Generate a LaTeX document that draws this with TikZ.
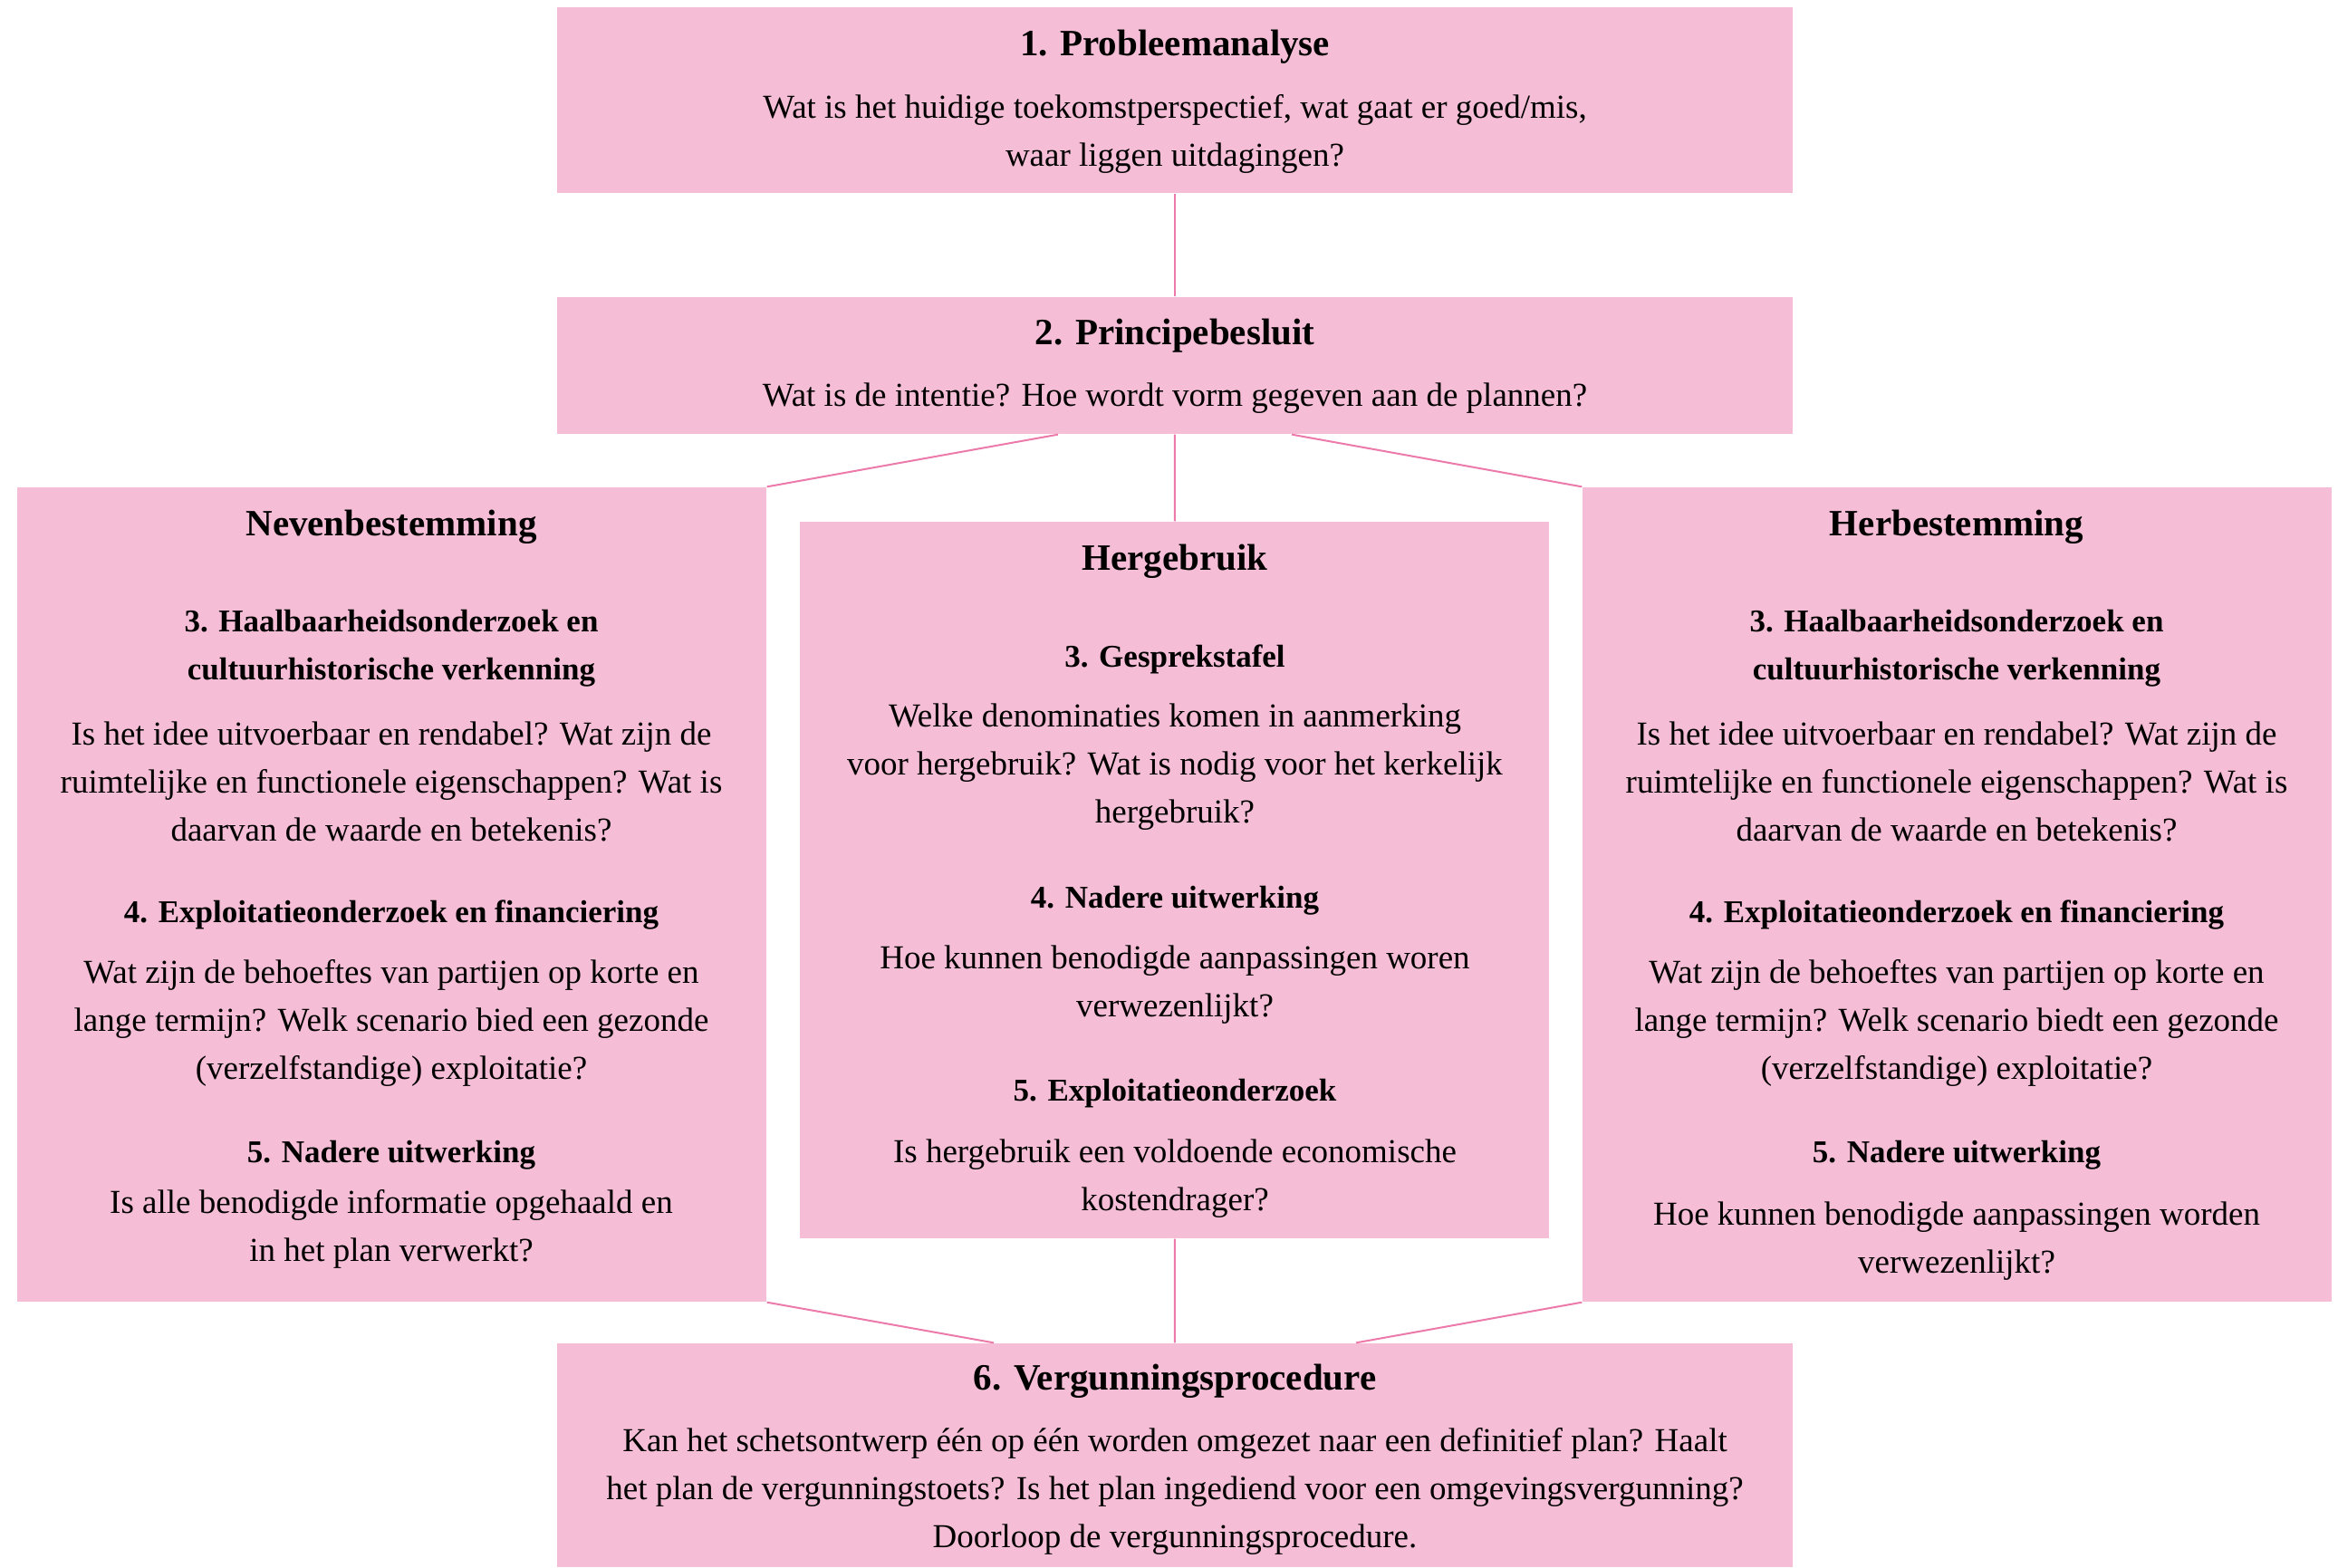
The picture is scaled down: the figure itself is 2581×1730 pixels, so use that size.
\documentclass[tikz,border=0pt]{standalone}
\usepackage{fontspec}
\setmainfont{Liberation Serif}
\usepackage{xcolor}
\usepackage{tikz}
\definecolor{pinkfill}{RGB}{246,190,214}
\definecolor{pinkline}{RGB}{236,122,170}
\tikzset{
  % --- boxes -----------------------------------------------------------------
  box/.style={rectangle,fill=pinkfill,inner sep=0pt},
  widebox/.style={box,minimum width=409.2pt},
  colbox/.style={box,minimum width=248.1pt},
  % --- texts -----------------------------------------------------------------
  ttl/.style={font=\bfseries\fontsize{12.3}{16}\selectfont,inner sep=0pt,
              yshift=-1.1pt},
  sub/.style={font=\bfseries\fontsize{10.5}{15.9}\selectfont,align=center,
              inner sep=0pt,yshift=-1.1pt},
  txt/.style={font=\fontsize{11.1}{15.9}\selectfont,align=center,inner sep=0pt,
              yshift=-1.1pt},
  % --- links -----------------------------------------------------------------
  link/.style={draw=pinkline,line width=0.6pt},
}
\begin{document}
\begin{tikzpicture}[x=0.3pt, y=-0.3pt]
  \useasboundingbox (0,0) rectangle (2581,1730);

  % boxes
  \node[widebox,minimum height=61.5pt]  (prob)  at (1297,110.5)  {};
  \node[widebox,minimum height=45.3pt]  (princ) at (1297,403.5)  {};
  \node[colbox,minimum height=269.7pt]  (neven) at (432.5,987.5) {};
  \node[colbox,minimum height=237.3pt]  (herg)  at (1296.5,971.5) {};
  \node[colbox,minimum height=269.7pt]  (herb)  at (2160.5,987.5) {};
  \node[widebox,minimum height=74.1pt]  (verg)  at (1297,1606.5) {};

  % links
  \draw[link] (prob) -- (princ);
  \draw[link] ([xshift=-38.7pt]princ.south) -- (neven.north east);
  \draw[link] (princ) -- (herg);
  \draw[link] ([xshift=38.7pt]princ.south) -- (herb.north west);
  \draw[link] (neven.south east) -- ([xshift=-60pt]verg.north);
  \draw[link] (herg) -- (verg);
  \draw[link] (herb.south west) -- ([xshift=60pt]verg.north);

  % 1 and 2
  \node[ttl] (probT) at (1297,48)  {1. Probleemanalyse};
  \node[txt] (probQ) at (1297,144) {Wat is het huidige toekomstperspectief, wat gaat er goed/mis,\\
    waar liggen uitdagingen?};
  \node[ttl] (princT) at (1297,367) {2. Principebesluit};
  \node[txt] (princQ) at (1297,436) {Wat is de intentie? Hoe wordt vorm gegeven aan de plannen?};

  % Nevenbestemming
  \node[ttl] (nevenT) at (432,578) {Nevenbestemming};
  \node[sub] (neven3) at (432,712) {3. Haalbaarheidsonderzoek en\\cultuurhistorische verkenning};
  \node[txt] (neven3q) at (432,859) {Is het idee uitvoerbaar en rendabel? Wat zijn de\\
    ruimtelijke en functionele eigenschappen? Wat is\\daarvan de waarde en betekenis?};
  \node[sub] (neven4) at (432,1006) {4. Exploitatieonderzoek en financiering};
  \node[txt] (neven4q) at (432,1126) {Wat zijn de behoeftes van partijen op korte en\\
    lange termijn? Welk scenario bied een gezonde\\(verzelfstandige) exploitatie?};
  \node[sub] (neven5) at (432,1272) {5. Nadere uitwerking};
  \node[txt] (neven5q) at (432,1353) {Is alle benodigde informatie opgehaald en\\in het plan verwerkt?};

  % Hergebruik
  \node[ttl] (hergT) at (1297,616) {Hergebruik};
  \node[sub] (herg3) at (1297,724) {3. Gesprekstafel};
  \node[txt] (herg3q) at (1297,843) {Welke denominaties komen in aanmerking\\
    voor hergebruik? Wat is nodig voor het kerkelijk\\hergebruik?};
  \node[sub] (herg4) at (1297,991) {4. Nadere uitwerking};
  \node[txt] (herg4q) at (1297,1083) {Hoe kunnen benodigde aanpassingen woren\\verwezenlijkt?};
  \node[sub] (herg5) at (1297,1203) {5. Exploitatieonderzoek};
  \node[txt] (herg5q) at (1297,1297) {Is hergebruik een voldoende economische\\kostendrager?};

  % Herbestemming
  \node[ttl] (herbT) at (2160,578) {Herbestemming};
  \node[sub] (herb3) at (2160,712) {3. Haalbaarheidsonderzoek en\\cultuurhistorische verkenning};
  \node[txt] (herb3q) at (2160,859) {Is het idee uitvoerbaar en rendabel? Wat zijn de\\
    ruimtelijke en functionele eigenschappen? Wat is\\daarvan de waarde en betekenis?};
  \node[sub] (herb4) at (2160,1006) {4. Exploitatieonderzoek en financiering};
  \node[txt] (herb4q) at (2160,1126) {Wat zijn de behoeftes van partijen op korte en\\
    lange termijn? Welk scenario biedt een gezonde\\(verzelfstandige) exploitatie?};
  \node[sub] (herb5) at (2160,1272) {5. Nadere uitwerking};
  \node[txt] (herb5q) at (2160,1366) {Hoe kunnen benodigde aanpassingen worden\\verwezenlijkt?};

  % 6
  \node[ttl] (vergT) at (1297,1521) {6. Vergunningsprocedure};
  \node[txt] (vergQ) at (1297,1643) {Kan het schetsontwerp één op één worden omgezet naar een definitief plan? Haalt\\
    het plan de vergunningstoets? Is het plan ingediend voor een omgevingsvergunning?\\
    Doorloop de vergunningsprocedure.};
\end{tikzpicture}
\end{document}
